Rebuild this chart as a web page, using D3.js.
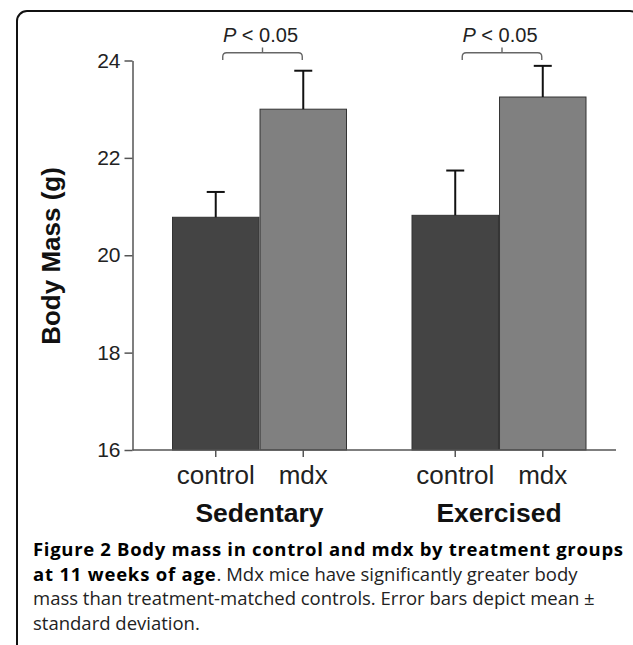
<!DOCTYPE html>
<html>
<head>
<meta charset="utf-8">
<script src="https://cdn.jsdelivr.net/npm/d3@7"></script>
<style>
  html, body { margin: 0; padding: 0; background: #fff; }
  svg { display: block; }
</style>
</head>
<body>
<svg id="chart" width="633" height="645"></svg>
<script>
// data
const groups = ["Sedentary", "Exercised"];
const subgroups = ["control", "mdx"];
const controlMeans = [20.78, 20.82];
const mdxMeans = [23.0, 23.25];
const controlSD = [0.52, 0.92];
const mdxSD = [0.79, 0.64];
const yTicks = [16, 18, 20, 22, 24];
const sigLabel = ["P", " < 0.05"];
const yTitle = "Body Mass (g)";
const captionLines = [
  [["Figure 2 Body mass in control and mdx by treatment groups", true]],
  [["at 11 weeks of age", true], [". Mdx mice have significantly greater body", false]],
  [["mass than treatment-matched controls. Error bars depict mean \u00b1", false]],
  [["standard deviation.", false]]
];

const rows = groups.map((g, i) => ({
  group: g,
  values: [
    { key: "control", mean: controlMeans[i], sd: controlSD[i] },
    { key: "mdx", mean: mdxMeans[i], sd: mdxSD[i] }
  ]
}));

const svg = d3.select("#chart");
const axisFont = "'Liberation Sans', Arial, sans-serif";
const colors = { control: "#444444", mdx: "#808080" };

// frame with rounded corner
svg.append("rect")
  .attr("x", 17).attr("y", 11)
  .attr("width", 623).attr("height", 700)
  .attr("rx", 10)
  .attr("fill", "#fff")
  .attr("stroke", "#111")
  .attr("stroke-width", 2);

const plotLeft = 132.5, plotRight = 616, plotBottom = 450;

const y = d3.scaleLinear().domain([16, 24]).range([plotBottom, 60.5]);
const x0 = d3.scaleBand().domain(groups).range([172.5, 586]).paddingInner(0.2735);
const x1 = d3.scaleBand().domain(subgroups).range([0, x0.bandwidth()]).paddingInner(0.012);

// y axis
const yAxis = svg.append("g")
  .attr("transform", `translate(${plotLeft},0)`)
  .call(d3.axisLeft(y).tickValues(yTicks).tickSize(8).tickSizeOuter(0).tickPadding(4));
yAxis.select(".domain").attr("stroke", "#555").attr("stroke-width", 1.5);
yAxis.selectAll(".tick line").attr("stroke", "#555").attr("stroke-width", 1.5);
yAxis.selectAll(".tick text")
  .attr("font-family", axisFont)
  .attr("font-size", 21)
  .attr("fill", "#222");

svg.append("text")
  .attr("transform", `translate(60,256) rotate(-90)`)
  .attr("text-anchor", "middle")
  .attr("font-family", axisFont)
  .attr("font-weight", "bold")
  .attr("font-size", 26)
  .attr("fill", "#111")
  .text(yTitle);

// bars
const gGroups = svg.selectAll(".grp")
  .data(rows)
  .enter().append("g")
  .attr("class", "grp")
  .attr("transform", d => `translate(${x0(d.group)},0)`);

gGroups.selectAll("rect")
  .data(d => d.values)
  .enter().append("rect")
  .attr("x", d => x1(d.key))
  .attr("width", x1.bandwidth())
  .attr("y", d => y(d.mean))
  .attr("height", d => y(16) - y(d.mean))
  .attr("fill", d => colors[d.key])
  .attr("stroke", "#333")
  .attr("stroke-width", 1);

// error bars (upper half only)
const capW = 18;
const eb = gGroups.selectAll(".eb")
  .data(d => d.values)
  .enter().append("g")
  .attr("class", "eb")
  .attr("stroke", "#111")
  .attr("stroke-width", 2);
eb.append("line")
  .attr("x1", d => x1(d.key) + x1.bandwidth() / 2)
  .attr("x2", d => x1(d.key) + x1.bandwidth() / 2)
  .attr("y1", d => y(d.mean))
  .attr("y2", d => y(d.mean + d.sd));
eb.append("line")
  .attr("x1", d => x1(d.key) + x1.bandwidth() / 2 - capW / 2)
  .attr("x2", d => x1(d.key) + x1.bandwidth() / 2 + capW / 2)
  .attr("y1", d => y(d.mean + d.sd))
  .attr("y2", d => y(d.mean + d.sd));

// x axis baseline and ticks
svg.append("line")
  .attr("x1", plotLeft).attr("x2", plotRight)
  .attr("y1", plotBottom).attr("y2", plotBottom)
  .attr("stroke", "#555").attr("stroke-width", 1.5);

groups.forEach(g => {
  const ax = svg.append("g")
    .attr("transform", `translate(${x0(g)},${plotBottom})`)
    .call(d3.axisBottom(x1).tickSize(7).tickSizeOuter(0));
  ax.select(".domain").remove();
  ax.selectAll(".tick line").attr("stroke", "#555").attr("stroke-width", 1.5);
  ax.selectAll(".tick text")
    .attr("y", 34).attr("dy", null)
    .attr("font-family", axisFont)
    .attr("font-size", 26)
    .attr("fill", "#222");

  svg.append("text")
    .attr("x", x0(g) + x0.bandwidth() / 2)
    .attr("y", 522)
    .attr("text-anchor", "middle")
    .attr("font-family", axisFont)
    .attr("font-weight", "bold")
    .attr("font-size", 26.5)
    .attr("fill", "#111")
    .text(g);

  // significance bracket
  const left = x0(g) + x1("control") + x1.bandwidth() / 2 + 7;
  const right = x0(g) + x1("mdx") + x1.bandwidth() / 2 - 1;
  const mid = (left + right) / 2;
  const top = 52.7, r = 4;
  svg.append("path")
    .attr("d", `M${left},60 L${left},${top + r} Q${left},${top} ${left + r},${top} L${right - r},${top} Q${right},${top} ${right},${top + r} L${right},60 M${mid},${top} L${mid},47.5`)
    .attr("fill", "none")
    .attr("stroke", "#666")
    .attr("stroke-width", 1.4);
  const t = svg.append("text")
    .attr("x", mid - 2)
    .attr("y", 42)
    .attr("text-anchor", "middle")
    .attr("font-family", axisFont)
    .attr("font-size", 20)
    .attr("fill", "#222");
  t.append("tspan").attr("font-style", "italic").text(sigLabel[0]);
  t.append("tspan").text(sigLabel[1]);
});

// caption
const cap = svg.append("g").attr("font-family", "'Open Sans', 'Noto Sans', sans-serif").attr("font-size", 18.5);
captionLines.forEach((line, i) => {
  const t = cap.append("text").attr("x", 33).attr("y", 556 + i * 24.7);
  if (i === 0) t.attr("textLength", 590).attr("lengthAdjust", "spacing");
  line.forEach(([s, bold]) => {
    const ts = t.append("tspan")
      .attr("font-weight", bold ? "bold" : "normal")
      .attr("fill", bold ? "#000" : "#222")
      .text(s);
    if (bold && i > 0) ts.attr("letter-spacing", 0.8);
  });
});
</script>
</body>
</html>
